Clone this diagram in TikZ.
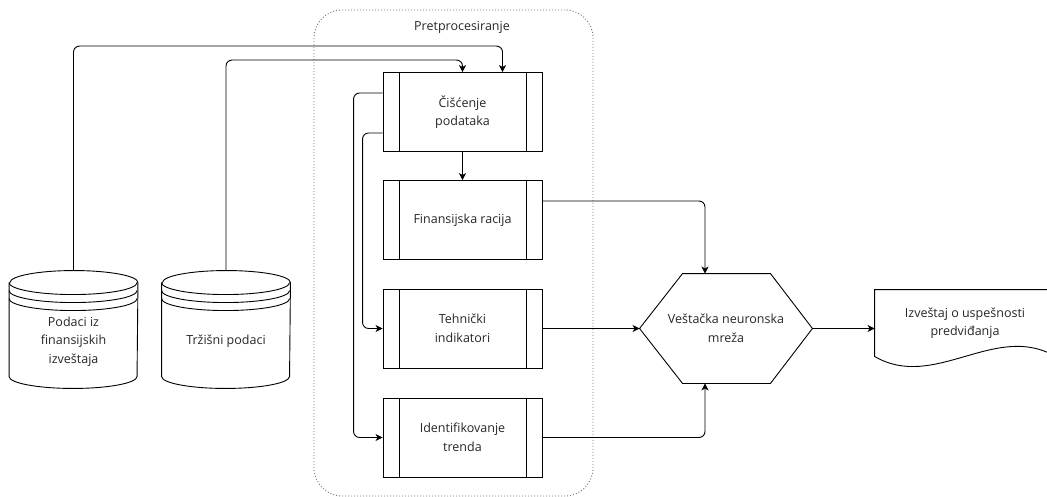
\documentclass[tikz,border=0pt]{standalone}
\usepackage{fontspec}
\setmainfont{Open Sans}
\usetikzlibrary{arrows.meta, calc}
\definecolor{box-text}{HTML}{262626}
\definecolor{group-gray}{HTML}{777777}

% data store drawn round a node
\newcommand{\datastore}[1]{%
  \draw ([yshift=12pt]#1.north west) -- ([yshift=12pt]#1.south west)
    arc[start angle=180, end angle=360, x radius=64pt, y radius=12pt]
    -- ([yshift=12pt]#1.north east)
    arc[start angle=0, end angle=180, x radius=64pt, y radius=12pt];
  \draw ([yshift=12pt]#1.north west) arc[start angle=180, end angle=360, x radius=64pt, y radius=12pt];
  \draw ([yshift=4pt]#1.north west) arc[start angle=180, end angle=360, x radius=64pt, y radius=12pt];
  \draw ([yshift=-4pt]#1.north west) arc[start angle=180, end angle=360, x radius=64pt, y radius=12pt];
}

\begin{document}
\begin{tikzpicture}[x=1pt, y=-1pt, line width=0.9pt,
      every node/.style={font=\fontsize{12.5}{18.5}\selectfont, text=box-text, align=center},
      proc/.style={draw, minimum width=159pt, minimum height=79pt,
        path picture={
          \draw ([xshift=16pt]path picture bounding box.north west) -- ([xshift=16pt]path picture bounding box.south west);
          \draw ([xshift=-16pt]path picture bounding box.north east) -- ([xshift=-16pt]path picture bounding box.south east);}},
      store/.style={minimum width=128pt, minimum height=93pt},
      group/.style={draw=group-gray, line width=0.9pt, dash pattern=on 1pt off 2pt,
        rounded corners=28pt, minimum width=279pt, minimum height=486pt},
      flow/.style={-{Stealth[length=7pt, width=7pt, inset=2pt]}, rounded corners=6pt}]
    \useasboundingbox (0,0) rectangle (1047,497);

    \node[group] (prep) at (453.5,253) {};
    \node (prepLbl) at ([xshift=8.5pt, yshift=-18pt]prep.north) {Pretprocesiranje};

    \node[store] (db1) at (73.5,341.5) {Podaci iz\\finansijskih\\izveštaja};
    \node[store] (db2) at (226,341.5) {Tržišni podaci};
    \datastore{db1}
    \datastore{db2}

    \node[proc] (cisc) at (462.5,112) {Čišćenje\\podataka};
    \node[proc] (finr) at (462.5,220) {Finansijska racija};
    \node[proc] (tech) at (462.5,328.5) {Tehnički\\indikatori};
    \node[proc] (trend) at (462.5,437.5) {Identifikovanje\\trenda};

    \node[minimum width=172pt, minimum height=109pt] (hex) at (726,328.5) {Veštačka neuronska\\mreža};
    \draw (hex.west) -- ([xshift=43pt]hex.north west) -- ([xshift=-42pt]hex.north east)
      -- (hex.east) -- ([xshift=-42pt]hex.south east) -- ([xshift=43pt]hex.south west) -- cycle;

    \node[minimum width=180pt, minimum height=66pt] (doc) at (965,323) {Izveštaj o uspešnosti\\predviđanja};
    \draw (doc.south east) -- (doc.north east) -- (doc.north west) -- (doc.south west)
      .. controls ([xshift=60pt, yshift=-35pt]doc.south west) and ([xshift=-60pt, yshift=35pt]doc.south east) .. (doc.south east);

    \draw[flow] ([yshift=24pt]db1.north) |- ([xshift=40pt, yshift=26pt]cisc.north) -- ([xshift=40pt]cisc.north);
    \draw[flow] ([yshift=24pt]db2.north) |- ([yshift=12pt]cisc.north) -- (cisc.north);
    \draw[flow] (cisc) -- (finr);
    \draw[flow] ([yshift=19pt]cisc.west) -- ++(-29pt,0) |- (trend.west);
    \draw[flow] ([yshift=-21pt]cisc.west) -- ++(-20pt,0) |- (tech.west);
    \draw[flow] ([yshift=19pt]finr.east) -| ([xshift=-21pt]hex.north);
    \draw[flow] (tech) -- (hex);
    \draw[flow] (trend) -| ([xshift=-21pt]hex.south);
    \draw[flow] (hex.east) -- (hex.east -| doc.west);
  \end{tikzpicture}
\end{document}
